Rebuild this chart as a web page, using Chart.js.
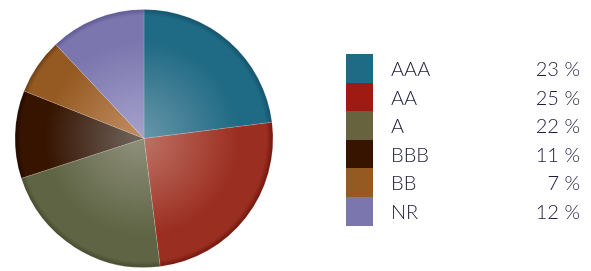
<!DOCTYPE html>
<html>
<head>
<meta charset="utf-8">
<script src="https://cdn.jsdelivr.net/npm/chart.js@4"></script>
<style>
  body { margin: 0; background: #fff; }
  #wrap { position: relative; width: 591px; height: 271px; }
  #pie { position: absolute; left: 0; top: 0; }
  #legend { position: absolute; left: 346px; top: 54px; font-family: Lato, "Open Sans", sans-serif; font-weight: 300; color: #1c1c3c; font-size: 20px; }
  .row { position: relative; height: 28.6px; width: 234px; }
  .sw { position: absolute; left: 0; top: 0; width: 27px; height: 28.6px; }
  .lab { position: absolute; left: 45px; top: 2px; }
  .pct { position: absolute; right: 0; top: 2px; }
</style>
</head>
<body>
<div id="wrap">
  <canvas id="pie" width="591" height="271"></canvas>
  <div id="legend"></div>
</div>
<script>
// ratings and their share
const ratings = ["AAA", "AA", "A", "BBB", "BB", "NR"];
const shares = [23, 25, 22, 11, 7, 12];
const baseColors = ["#1f6a84", "#9e1a12", "#67633f", "#361400", "#955a22", "#7b76ae"];
const lightColors = ["#6c98aa", "#c0766a", "#8e907a", "#6e625a", "#c08c60", "#a6a2cc"];
const rimColors = ["#14506a", "#6e140c", "#454a2e", "#200a00", "#6a3c14", "#5a5690"];
const pieColors = ["#1f6a84", "#9a2e20", "#5f6444", "#361400", "#955a22", "#7b76ae"];

// legend
let legend = document.getElementById("legend");
for (let i = 0; i < ratings.length; i++) {
  let row = document.createElement("div");
  row.className = "row";
  row.innerHTML = '<div class="sw" style="background:' + baseColors[i] + '"></div>' +
    '<span class="lab">' + ratings[i] + '</span>' +
    '<span class="pct">' + shares[i] + ' %</span>';
  legend.appendChild(row);
}

function sliceFill(context) {
  let chart = context.chart;
  let area = chart.chartArea;
  if (!area) return pieColors[context.dataIndex];
  let i = context.dataIndex;
  let cx = (area.left + area.right) / 2;
  let cy = (area.top + area.bottom) / 2;
  let r = Math.min(area.right - area.left, area.bottom - area.top) / 2;
  let g = chart.ctx.createRadialGradient(cx - 8, cy, 0, cx, cy, r);
  g.addColorStop(0, lightColors[i]);
  g.addColorStop(0.75, pieColors[i]);
  g.addColorStop(0.95, pieColors[i]);
  g.addColorStop(1, rimColors[i]);
  return g;
}

var chart = new Chart(document.getElementById("pie"), {
  type: "pie",
  data: {
    labels: ratings,
    datasets: [{
      data: shares,
      backgroundColor: sliceFill,
      borderColor: "rgba(255,255,255,0.15)",
      borderWidth: 1
    }]
  },
  options: {
    responsive: false,
    animation: false,
    layout: { padding: { left: 14, top: 9, right: 317, bottom: 3 } },
    plugins: {
      legend: { display: false },
      tooltip: { enabled: false }
    }
  }
});
</script>
</body>
</html>
